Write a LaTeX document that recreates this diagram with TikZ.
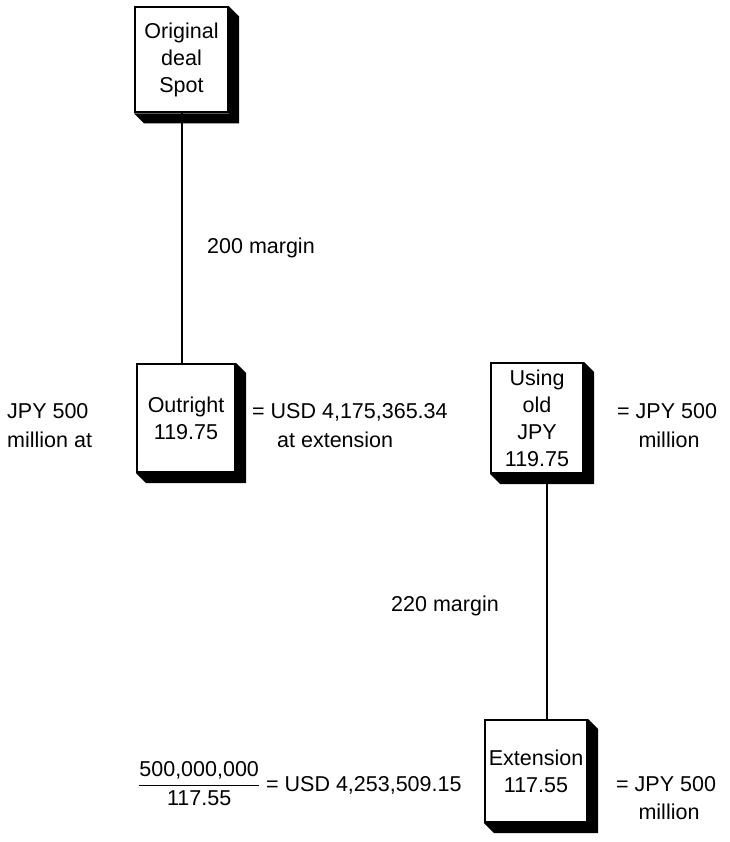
\documentclass[tikz,border=0pt]{standalone}
\usepackage{amsmath}
\usepackage{fontspec}
\setmainfont{Liberation Sans}
\usetikzlibrary{positioning}
% black extruded side of a deal box
\newcommand{\dealshadow}[1]{\fill (#1.north east) -- ++(10,10) -- ([shift={(10,10)}]#1.south east) -- ([shift={(10,10)}]#1.south west) -- (#1.south west) -- (#1.south east) -- cycle;}

\begin{document}
\begin{tikzpicture}[x=1pt, y=-1pt,
  deal/.style={draw, line width=2pt, fill=white, align=center, inner sep=1pt, font=\fontsize{21.5}{27}\selectfont},
  txt/.style={font=\fontsize{21.5}{27}\selectfont, inner sep=0pt, anchor=base west},
  link/.style={line width=2pt}]
\useasboundingbox (0,0) rectangle (729,842);
% boxes
\node[deal, minimum width=93, minimum height=105] (spot) at (181.5,60) {Original\\deal\\Spot};
\node[deal, minimum width=98, minimum height=108] (outr) at (186,418) {Outright\\119.75};
\node[deal, minimum width=92, minimum height=110] (oldjpy) at (537,418) {Using\\old\\JPY\\119.75};
\node[deal, minimum width=102, minimum height=102] (ext) at (536,771) {Extension\\117.55};
\dealshadow{spot} \dealshadow{outr} \dealshadow{oldjpy} \dealshadow{ext}
% links
\draw[link] (spot.south) -- (spot.south |- outr.north);
\draw[link] ([xshift=10]oldjpy.south) -- ([xshift=10]oldjpy.south |- ext.north);
\node[txt] (m200) at (207,253) {200 margin};
\node[txt] (m220) at (391,611) {220 margin};
% outright row
\node[txt] (jpyl) at (7,418) {JPY 500};
\node[txt] (jpyl2) at (7,447) {million at};
\node[txt] (usd1) at (252,418) {= USD 4,175,365.34};
\node[txt] (usd1b) at (277,447) {at extension};
\node[txt] (jpyr) at (617,418) {= JPY 500};
\node[txt, anchor=base] (jpyrb) at (669,447) {million};
% extension row
\node[txt] (usd2) at (138,791) {$\dfrac{\text{500,000,000}}{\text{117.55}}$ = USD 4,253,509.15};
\node[txt] (jpye) at (616,791) {= JPY 500};
\node[txt, anchor=base] (jpyeb) at (669,819) {million};
\end{tikzpicture}
\end{document}
